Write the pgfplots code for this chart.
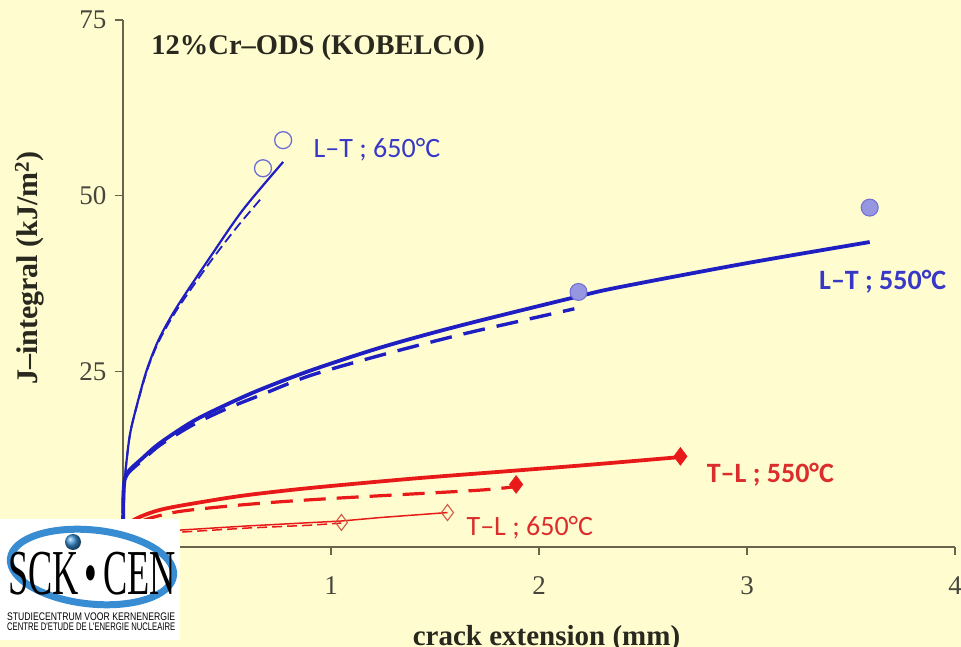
\documentclass[border=0pt]{standalone}
\usepackage{pgfplots}
\pgfplotsset{compat=1.18}
\usepackage{fontspec}
\setmainfont{Liberation Serif}
\newfontfamily\calibri{Carlito}
\newfontfamily\arialf{Liberation Sans}
\definecolor{bg}{RGB}{255,253,208}
\definecolor{axisc}{RGB}{105,100,75}
\definecolor{tickc}{RGB}{70,70,60}
\definecolor{titlec}{RGB}{40,40,30}
\definecolor{blueline}{RGB}{30,30,195}
\definecolor{bluetxt}{RGB}{55,55,200}
\definecolor{circedge}{RGB}{110,110,210}
\definecolor{circfill}{RGB}{150,150,225}
\definecolor{redline}{RGB}{232,25,25}
\definecolor{redtxt}{RGB}{220,45,45}
\definecolor{redopen}{RGB}{210,90,70}
\definecolor{logoblue}{RGB}{55,140,210}
\begin{document}
\begin{tikzpicture}
\fill[bg] (0,0) rectangle (961pt,647pt);
\begin{axis}[
  at={(123pt,100pt)}, anchor=south west,
  scale only axis, width=832pt, height=527pt,
  xmin=0, xmax=4, ymin=0, ymax=75,
  axis lines=left,
  axis line style={-, draw=axisc, line width=1.6pt},
  xtick={1,2,3,4}, ytick={25,50,75},
  tick align=outside, major tick length=8pt,
  tick style={draw=axisc, line width=1.4pt},
  ticklabel style={font=\fontsize{27}{27}\selectfont, text=tickc},
  /pgf/number format/assume math mode=true,
  xticklabel style={yshift=-18pt},
  yticklabel style={xshift=-5pt},
  xlabel={\textbf{crack extension (mm)}},
  xlabel style={font=\fontsize{29}{29}\selectfont, text=titlec, at={(axis description cs:0.509,-0.186)}, anchor=base},
  ylabel={\textbf{J–integral (kJ/m\textsuperscript{2})}},
  ylabel style={font=\fontsize{30}{30}\selectfont, text=titlec, at={(axis description cs:-0.112,0.529)}, anchor=center},
  clip=false,
]
% T-L 650 thin dashed
\addplot[redline, line width=1.5pt, dash pattern=on 10pt off 5pt] coordinates {
 (0,0.8) (0.27,2.1) (0.6,2.7) (0.9,3.1) (1.05,3.4)};
% T-L 650 thin solid
\addplot[redline, line width=1.5pt] coordinates {
 (0,1.0) (0.27,2.4) (0.6,3.0) (1.05,3.7) (1.24,4.2) (1.56,4.9)};
% T-L 650 open diamonds
\addplot[only marks, mark=diamond, mark size=8pt, mark options={draw=redopen, line width=1.1pt, fill=none}] coordinates {
 (1.05,3.5) (1.56,4.9)};
% T-L 550 dashed
\addplot[redline, line width=3.2pt, dash pattern=on 22pt off 11pt, smooth] coordinates {
 (0,0) (0.02,2.2) (0.1,3.8) (0.26,5.0) (0.5,5.8) (0.74,6.4) (1.0,6.9) (1.3,7.4) (1.72,8.1) (1.89,8.6)};
% T-L 550 solid
\addplot[redline, line width=3.8pt, smooth] coordinates {
 (0,0) (0.01,2.0) (0.05,3.8) (0.18,5.3) (0.4,6.5) (0.6,7.4) (0.9,8.4) (1.38,9.7) (1.81,10.7) (2.2,11.6) (2.68,12.8)};
% T-L 550 filled diamonds
\addplot[only marks, mark=diamond*, mark size=9pt, mark options={draw=redline, fill=redline}] coordinates {
 (1.89,8.9) (2.68,12.9)};
% L-T 550 dashed
\addplot[blueline, line width=3.4pt, dash pattern=on 22pt off 12pt, smooth] coordinates {
 (0,0) (0.003,8) (0.02,10.3) (0.096,12.4) (0.178,14.5) (0.337,17.4) (0.5,19.7) (0.66,21.6) (0.9,24.4) (1.24,27.3) (1.62,30.2) (1.9,32.1) (2.17,33.9)};
% L-T 550 solid
\addplot[blueline, line width=3.8pt, smooth] coordinates {
 (0,0) (0.003,8) (0.02,10.5) (0.096,12.7) (0.178,14.8) (0.337,17.9) (0.5,20.3) (0.66,22.4) (0.9,25.1) (1.24,28.4) (1.62,31.5) (2.18,35.6) (2.39,37.0) (3.0,40.4) (3.59,43.4)};
% L-T 550 filled circles
\addplot[only marks, mark=*, mark size=8.5pt, mark options={draw=circedge, fill=circfill, line width=1pt}] coordinates {
 (2.19,36.3) (3.59,48.3)};
% L-T 650 dashed
\addplot[blueline, line width=1.8pt, dash pattern=on 10pt off 5pt, smooth] coordinates {
 (0,0) (0.005,8) (0.02,13) (0.04,17) (0.096,23.2) (0.13,26.3) (0.178,29.6) (0.26,33.8) (0.42,40.6) (0.55,45.6) (0.67,49.8)};
% L-T 650 solid
\addplot[blueline, line width=2.2pt, smooth] coordinates {
 (0,0) (0.005,8) (0.02,13) (0.04,17) (0.096,23.4) (0.13,26.5) (0.178,29.9) (0.26,34.2) (0.42,41.3) (0.577,48.0) (0.77,54.8)};
% L-T 650 open circles
\addplot[only marks, mark=o, mark size=8.5pt, mark options={draw=circedge, line width=1.3pt}] coordinates {
 (0.673,53.9) (0.77,57.9)};
% labels
\node[anchor=base west, font=\fontsize{28.5}{28.5}\selectfont\bfseries, text=titlec] at (axis description cs:0.030,0.934) {12\%Cr–ODS (KOBELCO)};
\node[anchor=base west, font=\calibri\fontsize{28}{28}\selectfont, text=bluetxt] at (axis cs:0.90,55.5) {L–T ; 650°C};
\node[anchor=base west, font=\calibri\bfseries\fontsize{28}{28}\selectfont, text=bluetxt] at (axis cs:3.33,36.7) {L–T ; 550°C};
\node[anchor=base west, font=\calibri\bfseries\fontsize{28}{28}\selectfont, text=redtxt] at (axis cs:2.79,9.25) {T–L ; 550°C};
\node[anchor=base west, font=\calibri\fontsize{28}{28}\selectfont, text=redtxt] at (axis cs:1.635,1.7) {T–L ; 650°C};
\end{axis}
% logo
\fill[white] (0,7pt) rectangle (180pt,128pt);
\draw[logoblue, line width=7pt, rotate around={-6:(92pt,80pt)}] (92pt,80pt) ellipse (82pt and 37pt);
\shade[ball color=logoblue] (73pt,105pt) circle (8pt);
\node[anchor=base west, inner sep=0pt] at (8pt,52pt) {\resizebox{168pt}{\height}{\fontsize{64}{64}\selectfont SCK\,•\,CEN}};
\fill[white] (3pt,13pt) rectangle (178pt,36pt);
\node[anchor=base west, inner sep=0pt] at (7pt,26pt) {\resizebox{168pt}{\height}{\arialf\fontsize{11}{11}\selectfont STUDIECENTRUM VOOR KERNENERGIE}};
\node[anchor=base west, inner sep=0pt] at (7pt,16pt) {\resizebox{168pt}{\height}{\arialf\fontsize{11}{11}\selectfont CENTRE D'ETUDE DE L'ENERGIE NUCLEAIRE}};
\pgfresetboundingbox
\path[use as bounding box] (0,0) rectangle (961pt,647pt);
\end{tikzpicture}
\end{document}
